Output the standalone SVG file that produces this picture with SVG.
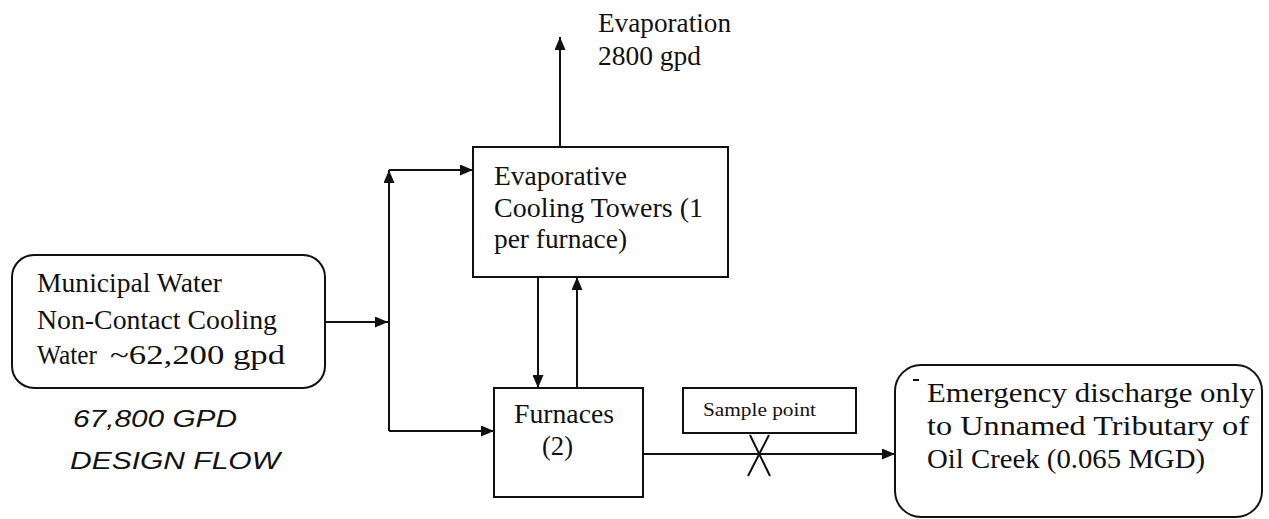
<svg xmlns="http://www.w3.org/2000/svg" width="1269" height="519" viewBox="0 0 1269 519">
<style>
.box{fill:#fff;stroke:#111;stroke-width:2}
.t{font-family:"Liberation Serif","Times New Roman",serif;font-size:27px;fill:#111}
.s{font-family:"Liberation Serif","Times New Roman",serif;font-size:19px;fill:#111}
.h{font-family:"Liberation Sans",Arial,sans-serif;font-size:23px;fill:#111;font-style:italic}
.c{fill:none;stroke:#111;stroke-width:2}
</style>
<defs>
<marker id="a" viewBox="0 0 13 11" refX="13" refY="5.5" markerWidth="13" markerHeight="11" markerUnits="userSpaceOnUse" orient="auto">
<path d="M0,0 L13,5.5 L0,11 Z" fill="#111"/>
</marker>
</defs>
<rect width="1269" height="519" fill="#fff"/>
<g id="connectors">
<path class="c" d="M325,322 H388" marker-end="url(#a)"/>
<path class="c" d="M389,431 V170" marker-end="url(#a)"/>
<path class="c" d="M389,170 H473" marker-end="url(#a)"/>
<path class="c" d="M389,431 H494" marker-end="url(#a)"/>
<path class="c" d="M538,277 V388" marker-end="url(#a)"/>
<path class="c" d="M577,388 V277" marker-end="url(#a)"/>
<path class="c" d="M560,147 V37" marker-end="url(#a)"/>
<path class="c" d="M643,454 H895" marker-end="url(#a)"/>
<path class="c" d="M750,435 L770,476 M769,435 L748,476"/>
</g>
<g id="municipal">
<rect class="box" x="12" y="255" width="313" height="133" rx="22"/>
<text class="t" x="37" y="292" textLength="185" lengthAdjust="spacingAndGlyphs">Municipal Water</text>
<text class="t" x="37" y="329" textLength="240" lengthAdjust="spacingAndGlyphs">Non-Contact Cooling</text>
<text class="t" x="37" y="364" textLength="60" lengthAdjust="spacingAndGlyphs">Water</text>
<text class="t" x="110" y="364" textLength="175" lengthAdjust="spacingAndGlyphs">~62,200 gpd</text>
</g>
<g id="handwritten">
<text class="h" x="73" y="427" textLength="164" lengthAdjust="spacingAndGlyphs">67,800 GPD</text>
<text class="h" x="70" y="469" textLength="210" lengthAdjust="spacingAndGlyphs">DESIGN FLOW</text>
</g>
<g id="evaporation">
<text class="t" x="598" y="32" textLength="133" lengthAdjust="spacingAndGlyphs">Evaporation</text>
<text class="t" x="598" y="65" textLength="103" lengthAdjust="spacingAndGlyphs">2800 gpd</text>
</g>
<g id="towers">
<rect class="box" x="473" y="147" width="255" height="130"/>
<text class="t" x="494" y="185" textLength="133" lengthAdjust="spacingAndGlyphs">Evaporative</text>
<text class="t" x="494" y="217" textLength="209" lengthAdjust="spacingAndGlyphs">Cooling Towers (1</text>
<text class="t" x="494" y="248" textLength="133" lengthAdjust="spacingAndGlyphs">per furnace)</text>
</g>
<g id="furnaces">
<rect class="box" x="494" y="388" width="149" height="109"/>
<text class="t" x="514" y="423" textLength="100" lengthAdjust="spacingAndGlyphs">Furnaces</text>
<text class="t" x="542" y="455" textLength="31" lengthAdjust="spacingAndGlyphs">(2)</text>
</g>
<g id="sample">
<rect class="box" x="683" y="388" width="173" height="45"/>
<text class="s" x="703" y="416" textLength="113" lengthAdjust="spacingAndGlyphs">Sample point</text>
</g>
<g id="emergency">
<rect class="box" x="895" y="365" width="367" height="152" rx="26"/>
<path class="c" d="M913,380 H919" stroke-width="1.5"/>
<text class="t" x="927" y="402" textLength="328" lengthAdjust="spacingAndGlyphs">Emergency discharge only</text>
<text class="t" x="927" y="435" textLength="322" lengthAdjust="spacingAndGlyphs">to Unnamed Tributary of</text>
<text class="t" x="927" y="468" textLength="278" lengthAdjust="spacingAndGlyphs">Oil Creek (0.065 MGD)</text>
</g>
</svg>
